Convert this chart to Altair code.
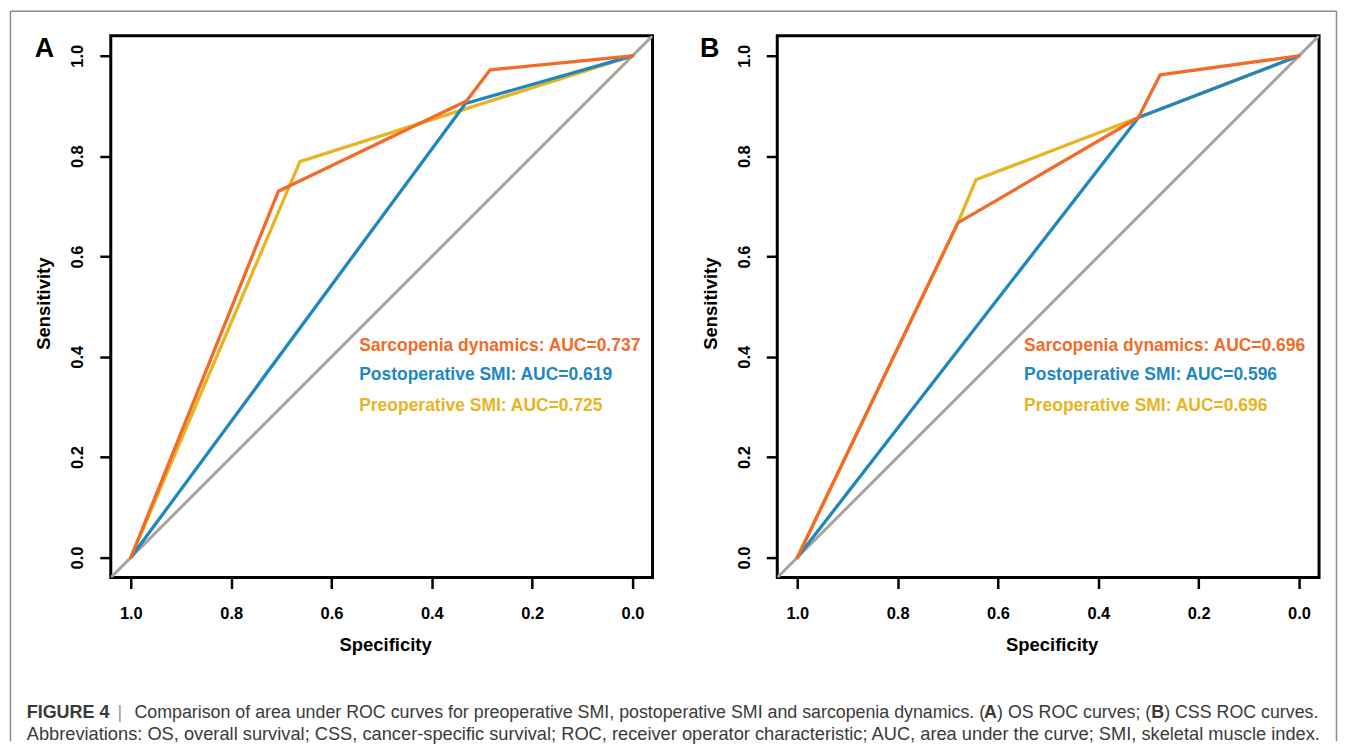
import altair as alt
import pandas as pd

# ---------------- data ----------------
series_names = ["Sarcopenia dynamics", "Postoperative SMI", "Preoperative SMI"]

# Panel A: OS ROC curves
A_dyn_spec = [1.0, 0.706, 0.331, 0.284, 0.0]
A_dyn_sens = [0.0, 0.730, 0.910, 0.972, 1.0]
A_post_spec = [1.0, 0.333, 0.0]
A_post_sens = [0.0, 0.905, 1.0]
A_pre_spec = [1.0, 0.663, 0.0]
A_pre_sens = [0.0, 0.789, 1.0]
A_auc = ["0.737", "0.619", "0.725"]

# Panel B: CSS ROC curves
B_dyn_spec = [1.0, 0.680, 0.320, 0.277, 0.0]
B_dyn_sens = [0.0, 0.667, 0.877, 0.962, 1.0]
B_post_spec = [1.0, 0.320, 0.0]
B_post_sens = [0.0, 0.877, 1.0]
B_pre_spec = [1.0, 0.680, 0.644, 0.320, 0.0]
B_pre_sens = [0.0, 0.667, 0.753, 0.877, 1.0]
B_auc = ["0.696", "0.596", "0.696"]

# chance diagonal (corner to corner of the plotting region)
diag_spec = [1.04, -0.04]
diag_sens = [-0.04, 1.04]

tick_values = [0.0, 0.2, 0.4, 0.6, 0.8, 1.0]
axis_domain = [-0.04, 1.04]

caption_line1 = ["FIGURE 4", "|",
                 "Comparison of area under ROC curves for preoperative SMI, postoperative SMI and sarcopenia dynamics. (",
                 "A", ") OS ROC curves; (", "B", ") CSS ROC curves."]
caption_line2 = ("Abbreviations: OS, overall survival; CSS, cancer-specific survival; ROC, receiver operator "
                 "characteristic; AUC, area under the curve; SMI, skeletal muscle index.")

# ---------------- styling ----------------
ORANGE = "#F26B27"
BLUE = "#1F87BF"
YELLOW = "#E8B422"
GREY = "#A9A4A2"
colors = [ORANGE, BLUE, YELLOW]
FONT = "Liberation Sans"
W = 543
H = 543

xscale = alt.Scale(domain=axis_domain, reverse=True, nice=False, zero=False)
yscale = alt.Scale(domain=axis_domain, nice=False, zero=False)

xaxis = alt.Axis(values=tick_values, format=".1f", grid=False, domain=False,
                 ticks=True, tickColor="black", tickWidth=2.5, tickSize=11,
                 labelFont=FONT, labelFontWeight="bold", labelFontSize=16.5, labelColor="black",
                 labelBaseline="alphabetic", labelPadding=30,
                 title="Specificity", titleFont=FONT, titleFontWeight="bold", titleFontSize=18.5,
                 titleColor="black", titleX=275, titleY=73, titleAlign="center",
                 titleBaseline="alphabetic", titleAngle=0)
yaxis = alt.Axis(values=tick_values, format=".1f", grid=False, domain=False,
                 ticks=True, tickColor="black", tickWidth=2.5, tickSize=11,
                 labelFont=FONT, labelFontWeight="bold", labelFontSize=16.5, labelColor="black",
                 labelAngle=270, labelAlign="center", labelBaseline="alphabetic", labelPadding=17,
                 title="Sensitivity", titleFont=FONT, titleFontWeight="bold", titleFontSize=18.5,
                 titleColor="black", titleX=-61, titleY=268, titleAlign="center",
                 titleBaseline="alphabetic", titleAngle=270)


def frame(spec, sens):
    return pd.DataFrame({"spec": spec, "sens": sens, "i": list(range(len(spec)))})


def curve(spec, sens, color, width=3.3):
    return alt.Chart(frame(spec, sens)).mark_line(
        color=color, strokeWidth=width, strokeJoin="round", strokeCap="round", clip=True
    ).encode(
        x=alt.X("spec:Q", scale=xscale, axis=xaxis),
        y=alt.Y("sens:Q", scale=yscale, axis=yaxis),
        order="i:Q",
    )


def auc_text(name, auc, color, xv, yv):
    d = pd.DataFrame({"t": [f"{name}: AUC={auc}"]})
    return alt.Chart(d).mark_text(
        font=FONT, fontWeight="bold", fontSize=17.5, color=color, align="left", baseline="alphabetic"
    ).encode(text="t:N", x=alt.datum(xv, scale=xscale), y=alt.datum(yv, scale=yscale))


def pix_text(s, xp, yp, size, color="black", weight="normal", font=FONT):
    d = pd.DataFrame({"t": [s]})
    return alt.Chart(d).mark_text(
        font=font, fontWeight=weight, fontSize=size, color=color, align="left", baseline="alphabetic"
    ).encode(text="t:N", x=alt.value(xp), y=alt.value(yp))


def panel(letter, dyn, post, pre, aucs, text_x, text_ys, letter_x, extra=None):
    layers = [
        curve(diag_spec, diag_sens, GREY, 3.0),
        curve(pre[0], pre[1], YELLOW),
        curve(post[0], post[1], BLUE),
        curve(dyn[0], dyn[1], ORANGE),
    ]
    for name, auc, col, yv in zip(series_names, aucs, colors, text_ys):
        layers.append(auc_text(name, auc, col, text_x, yv))
    layers.append(pix_text(letter, letter_x, 21.5, 27, weight="bold"))
    if extra:
        layers.extend(extra)
    return alt.layer(*layers).properties(width=W, height=H)


# outer light border and caption (drawn in panel A's pixel space)
BORDER = "#8C8C8C"
border_l, border_r, border_t, border_b = -100.5, 1228.5, -24.5, 707
border = [
    alt.Chart(pd.DataFrame({"k": [0]})).mark_rule(color=BORDER, strokeWidth=1.5).encode(
        x=alt.value(border_l), y=alt.value(border_t), y2=alt.value(border_b)),
    alt.Chart(pd.DataFrame({"k": [0]})).mark_rule(color=BORDER, strokeWidth=1.5).encode(
        x=alt.value(border_r), y=alt.value(border_t), y2=alt.value(border_b)),
    alt.Chart(pd.DataFrame({"k": [0]})).mark_rule(color=BORDER, strokeWidth=1.5).encode(
        x=alt.value(border_l), x2=alt.value(border_r), y=alt.value(border_t)),
]
CAP = "#3A3A3A"
cy1, cy2 = 683.5, 706
cx0 = -84.25
CS = 17.85
caption = [
    pix_text(caption_line1[0], cx0, cy1, 18, CAP, "bold"),
    pix_text(caption_line1[1], cx0 + 91, cy1, CS, "#9A9A9A"),
    pix_text(caption_line1[2], cx0 + 108, cy1, CS, CAP),
    pix_text(caption_line1[3], cx0 + 959.5, cy1, CS, CAP, "bold"),
    pix_text(caption_line1[4], cx0 + 972.5, cy1, CS, CAP),
    pix_text(caption_line1[5], cx0 + 1127, cy1, CS, CAP, "bold"),
    pix_text(caption_line1[6], cx0 + 1140, cy1, CS, CAP),
    pix_text(caption_line2, cx0, cy2, 18.3, CAP),
]

panelA = panel("A", (A_dyn_spec, A_dyn_sens), (A_post_spec, A_post_sens), (A_pre_spec, A_pre_sens),
               A_auc, 0.5448, [0.4125, 0.3529, 0.2913], -76.25, border + caption)
panelB = panel("B", (B_dyn_spec, B_dyn_sens), (B_post_spec, B_post_sens), (B_pre_spec, B_pre_sens),
               B_auc, 0.548, [0.4125, 0.3529, 0.2913], -77.5)

chart = alt.HConcatChart(hconcat=[panelA, panelB], bounds="flush", spacing=125).properties(
    padding=0, background="white"
).configure_view(stroke="black", strokeWidth=3)

chart.save("out.html", embed_options={"renderer": "svg", "actions": False})
